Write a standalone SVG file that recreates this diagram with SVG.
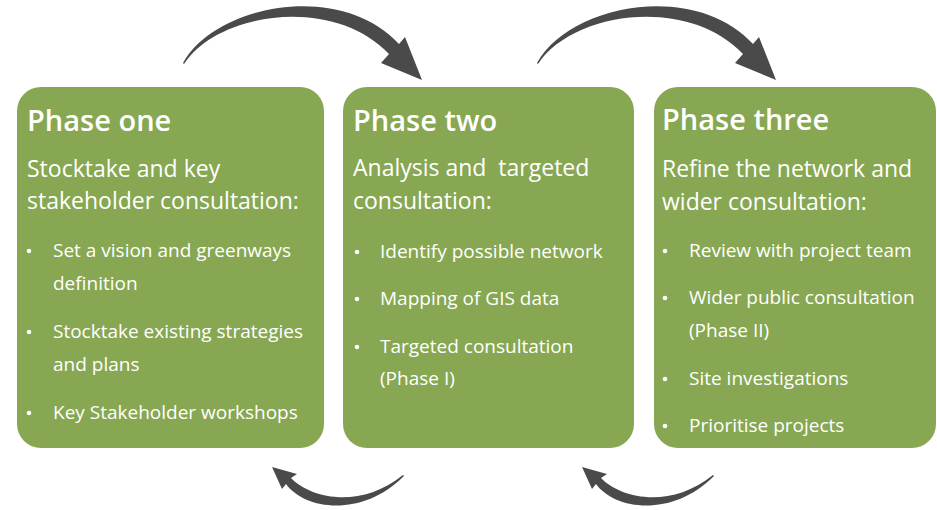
<svg xmlns="http://www.w3.org/2000/svg" width="937" height="510" viewBox="0 0 937 510">
<style>
.box{fill:#87a752}
.t{font-family:"Open Sans","Liberation Sans",sans-serif;fill:#ffffff;white-space:pre}
.title{font-size:29px;font-weight:600}
.sub{font-size:23px;font-weight:500}
.item{font-size:19px;font-weight:500}
.dot{fill:#ffffff}
.arrow{fill:#4a4a4a}
</style>
<defs>
<path id="topArrow" d="M183,63 C215,5 340,-20 399,44 L405,37 L422,80 L381,63 L389,54 C333,-5 218,12 184,64 Z"/>
<path id="botArrow" d="M291,478 C310,498 360,510 403,475 L404,476 C362,518 305,510 286,484 L282,489 L272,467 L297,474 Z"/>
</defs>
<g id="connectors">
<use href="#topArrow" class="arrow"/>
<use href="#topArrow" class="arrow" transform="translate(354,0)"/>
<use href="#botArrow" class="arrow"/>
<use href="#botArrow" class="arrow" transform="translate(310,0)"/>
</g>
<g id="phase-one">
<rect class="box" x="17" y="87" width="307" height="361" rx="24"/>
<text class="t title" x="27" y="131">Phase one</text>
<text class="t sub" x="27" y="177">Stocktake and key</text>
<text class="t sub" x="27" y="209">stakeholder consultation:</text>
<circle class="dot" cx="29" cy="251" r="2.3"/>
<text class="t item" x="53" y="257">Set a vision and greenways</text>
<text class="t item" x="53" y="290">definition</text>
<circle class="dot" cx="29" cy="332" r="2.3"/>
<text class="t item" x="53" y="338">Stocktake existing strategies</text>
<text class="t item" x="53" y="371">and plans</text>
<circle class="dot" cx="29" cy="413" r="2.3"/>
<text class="t item" x="53" y="419">Key Stakeholder workshops</text>
</g>
<g id="phase-two">
<rect class="box" x="343" y="87" width="291" height="361" rx="24"/>
<text class="t title" x="353" y="131">Phase two</text>
<text class="t sub" x="353" y="176" xml:space="preserve">Analysis and  targeted</text>
<text class="t sub" x="353" y="209">consultation:</text>
<circle class="dot" cx="357" cy="252" r="2.3"/>
<text class="t item" x="380" y="258">Identify possible network</text>
<circle class="dot" cx="357" cy="299" r="2.3"/>
<text class="t item" x="380" y="305">Mapping of GIS data</text>
<circle class="dot" cx="357" cy="347" r="2.3"/>
<text class="t item" x="380" y="353">Targeted consultation</text>
<text class="t item" x="380" y="385">(Phase I)</text>
</g>
<g id="phase-three">
<rect class="box" x="654" y="87" width="282" height="361" rx="24"/>
<text class="t title" x="662" y="130">Phase three</text>
<text class="t sub" x="662" y="177">Refine the network and</text>
<text class="t sub" x="662" y="210">wider consultation:</text>
<circle class="dot" cx="665" cy="251" r="2.3"/>
<text class="t item" x="689" y="257">Review with project team</text>
<circle class="dot" cx="665" cy="298" r="2.3"/>
<text class="t item" x="689" y="304">Wider public consultation</text>
<text class="t item" x="689" y="337">(Phase II)</text>
<circle class="dot" cx="665" cy="379" r="2.3"/>
<text class="t item" x="689" y="385">Site investigations</text>
<circle class="dot" cx="665" cy="426" r="2.3"/>
<text class="t item" x="689" y="432">Prioritise projects</text>
</g>
</svg>
